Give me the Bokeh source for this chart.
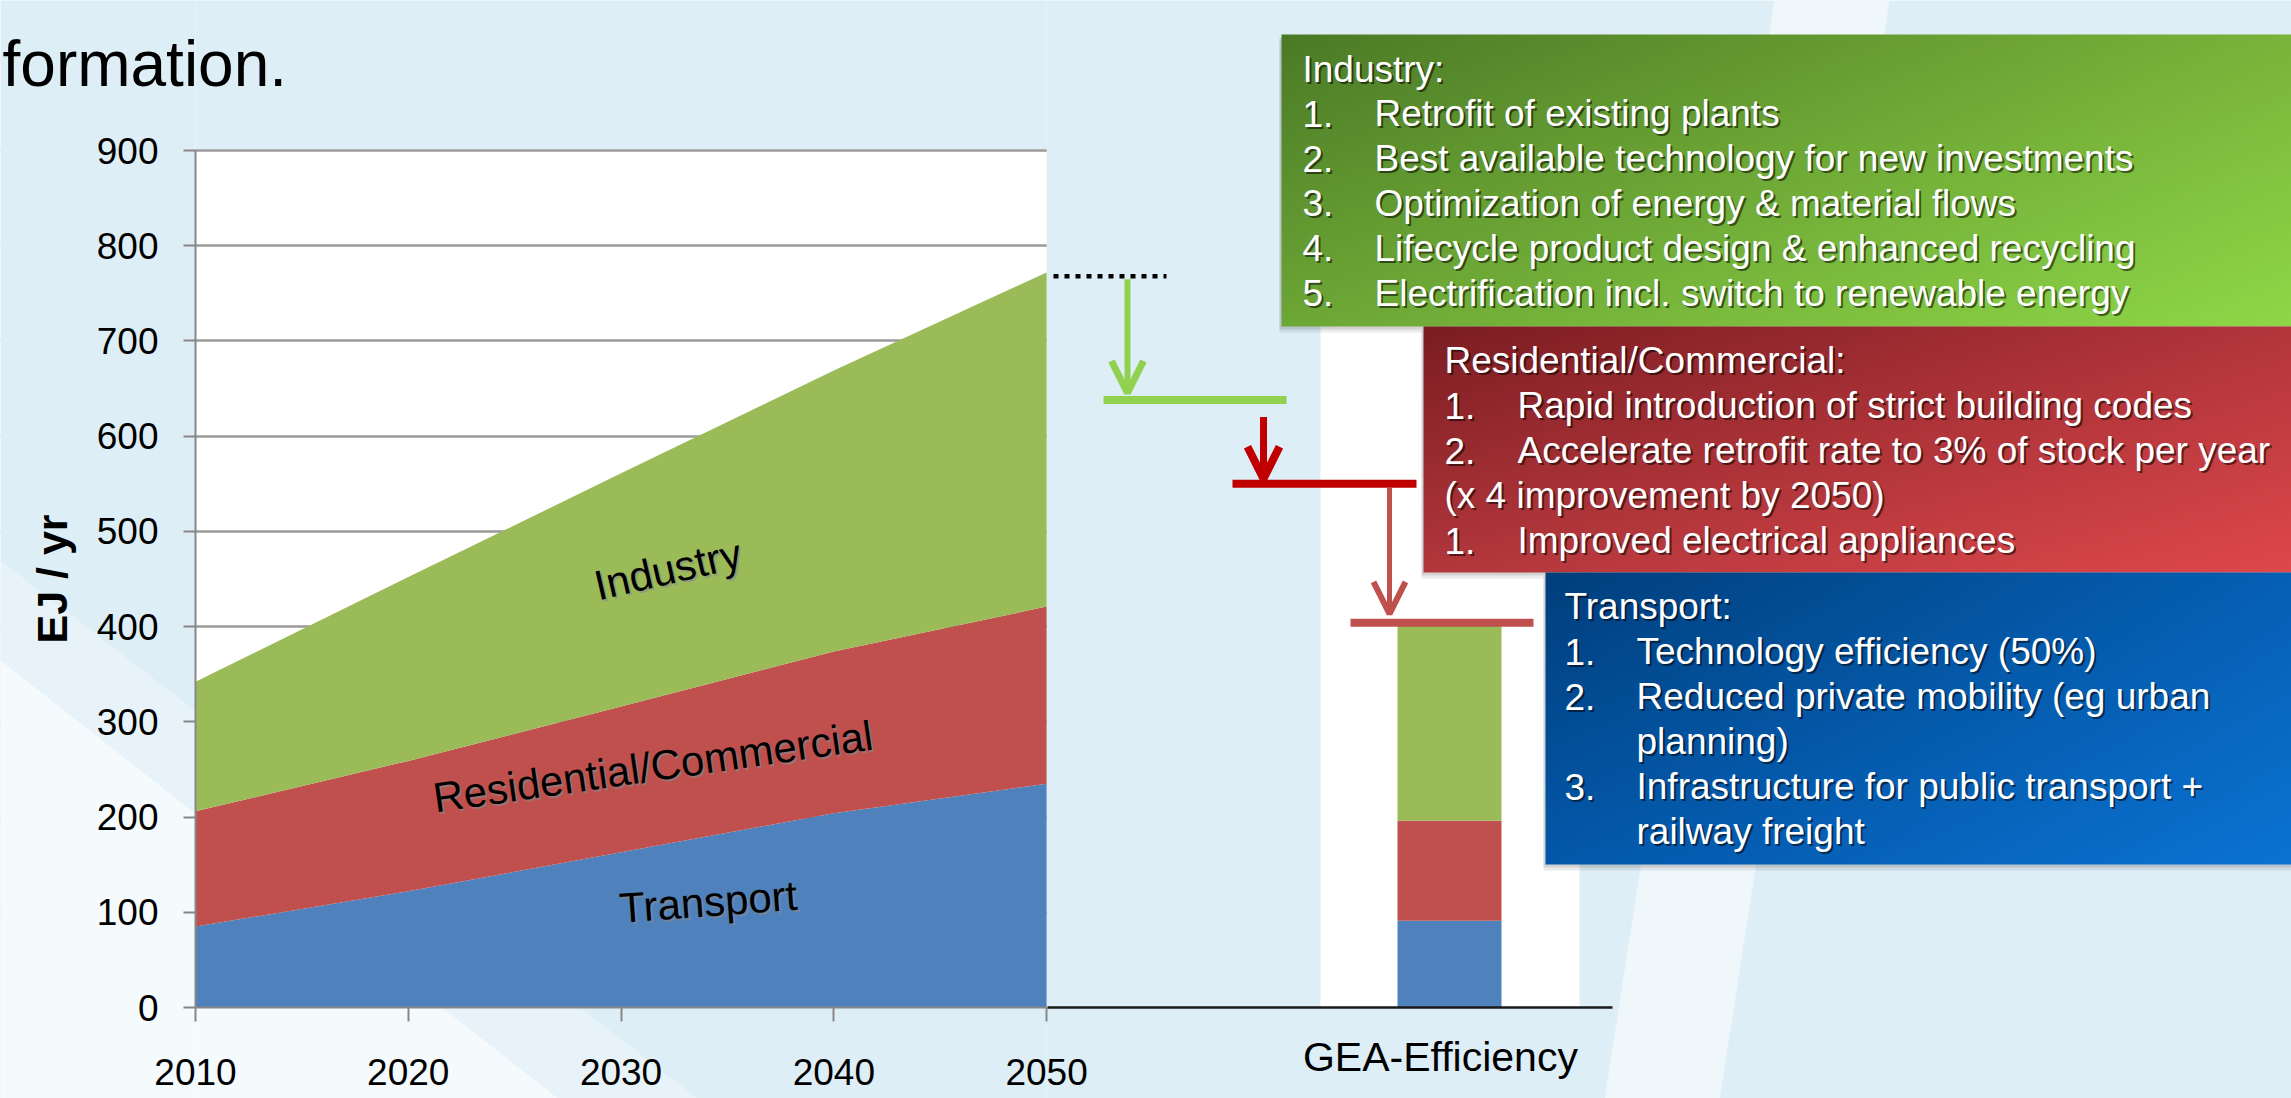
import numpy as np
from bokeh.plotting import figure
from bokeh.models import (ColumnDataSource, Range1d, LinearAxis, FixedTicker, Grid,
                          Arrow, OpenHead)
from bokeh.core.properties import value
from bokeh.embed import file_html
from bokeh.resources import INLINE

# ---------------- data ----------------
years = [2010, 2020, 2030, 2040, 2050]
transport = [85, 122, 163, 204, 235]
residential = [121, 137, 153, 170, 186]
industry = [136, 193, 245, 295, 351]

gea_category = ["GEA-Efficiency"]
gea_transport = [91]
gea_residential = [105]
gea_industry = [208]

sector_names = ["Transport", "Residential/Commercial", "Industry"]
sector_colors = ["#4f81bd", "#c0504d", "#9bbb59"]

y_ticks = [0, 100, 200, 300, 400, 500, 600, 700, 800, 900]
x_ticks = [2010, 2020, 2030, 2040, 2050]

# levels (EJ/yr) of the step-down annotation: 2050 level, after industry, after buildings
step_levels = [768, 638, 550]

# anchors of the in-area labels (data units) and their slant
label_x = [2034.1, 2031.5, 2032.2]
label_y = [111, 253, 460]
label_angle_deg = [4.2, 8.2, 13.0]

slide_title_fragment = "formation."

industry_title = "Industry:"
industry_items = [("1.", "Retrofit of existing plants"),
                  ("2.", "Best available technology for new investments"),
                  ("3.", "Optimization of energy & material flows"),
                  ("4.", "Lifecycle product design & enhanced recycling"),
                  ("5.", "Electrification incl. switch to renewable energy")]
res_title = "Residential/Commercial:"
res_items = [("1.", "Rapid introduction of strict building codes"),
             ("2.", "Accelerate retrofit rate to 3% of stock per year"),
             ("(x 4 improvement by 2050)", ""),
             ("1.", "Improved electrical appliances")]
transport_title = "Transport:"
transport_items = [("1.", "Technology efficiency (50%)"),
                   ("2.", "Reduced private  mobility (eg urban"),
                   ("", "planning)"),
                   ("3.", "Infrastructure for public transport +"),
                   ("", "railway freight")]

# ---------------- page geometry (reference pixels) ----------------
W, H = 2291, 1098
OFF = 0
X2010_PX, X2050_PX = 195.0, 1046.1
Y0_PX, PX_PER_UNIT = 1007.0, 0.9522
FONT = "Liberation Sans"
BG = "#deeef6"


def xd(px):
    return 2010 + (px - X2010_PX) * 40.0 / (X2050_PX - X2010_PX)


def yd(py):
    return (Y0_PX - py) / PX_PER_UNIT


p = figure(width=W, height=H,
           x_range=Range1d(xd(OFF), xd(OFF + W)),
           y_range=Range1d(yd(OFF + H), yd(OFF)),
           x_axis_type=None, y_axis_type=None,
           output_backend="svg", toolbar_location=None,
           min_border=0, min_border_left=0, min_border_right=0,
           min_border_top=0, min_border_bottom=0,
           background_fill_color="white", border_fill_color=BG,
           outline_line_color=None)

# ---------------- axes and grid ----------------
yaxis = LinearAxis(fixed_location=2010, ticker=FixedTicker(ticks=y_ticks), bounds=(0, 900),
                   axis_label="EJ / yr", axis_label_text_font=FONT,
                   axis_label_text_font_size="43px", axis_label_text_font_style="bold",
                   axis_label_text_color="black", axis_label_standoff=18,
                   major_label_text_font=FONT, major_label_text_font_size="37px",
                   major_label_text_color="black", major_label_standoff=25,
                   major_tick_out=12, major_tick_in=0, minor_tick_out=0, minor_tick_in=0,
                   axis_line_color="#878787", axis_line_width=2,
                   major_tick_line_color="#878787", major_tick_line_width=2)
p.add_layout(yaxis, "left")

xaxis = LinearAxis(fixed_location=0, ticker=FixedTicker(ticks=x_ticks), bounds=(2010, 2050),
                   major_label_text_font=FONT, major_label_text_font_size="37px",
                   major_label_text_color="black", major_label_standoff=37,
                   major_tick_out=14, major_tick_in=0, minor_tick_out=0, minor_tick_in=0,
                   axis_line_color="#878787", axis_line_width=2,
                   major_tick_line_color="#878787", major_tick_line_width=2)
p.add_layout(xaxis, "below")

gea_tick = round(xd(1440), 2)
gea_axis = LinearAxis(fixed_location=0, ticker=FixedTicker(ticks=[gea_tick]),
                      bounds=(xd(1047), xd(1612)),
                      major_label_overrides={gea_tick: gea_category[0]},
                      major_label_text_font=FONT, major_label_text_font_size="41px",
                      major_label_text_color="black", major_label_standoff=26,
                      major_tick_out=0, major_tick_in=0, minor_tick_out=0, minor_tick_in=0,
                      axis_line_color="#1a1a1a", axis_line_width=2.5)
p.add_layout(gea_axis, "below")

grid = Grid(dimension=1, ticker=FixedTicker(ticks=y_ticks[1:]),
            grid_line_color="#9a9a9a", grid_line_width=2.5)
p.add_layout(grid)

# masks: keep the white plotting area only between 2010-2050 and 0-900
xs0, xs1 = xd(OFF) - 5, xd(OFF + W) + 5
ys0, ys1 = yd(OFF + H) - 5, yd(OFF) + 5
top_edge = 900 + 1.6 / PX_PER_UNIT
p.quad(left=[xs0, 2050, 2010, 2010], right=[2010, xs1, 2050, 2050],
       bottom=[ys0, ys0, top_edge, ys0], top=[ys1, ys1, ys1, 0],
       fill_color=BG, line_color=None)

# background light streaks of the slide
p.patch([xd(0), xd(700), xd(0)], [yd(560), yd(1100), yd(1100)],
        fill_color="white", fill_alpha=0.3, line_color=None)
p.patch([xd(0), xd(560), xd(0)], [yd(660), yd(1100), yd(1100)],
        fill_color="white", fill_alpha=0.55, line_color=None)
p.patch([xd(1774), xd(1889), xd(1719), xd(1604)], [yd(0), yd(0), yd(1100), yd(1100)],
        fill_color="white", fill_alpha=0.55, line_color=None)

# white panel behind the GEA bar
p.quad(left=[xd(1320)], right=[xd(1579)], bottom=[0], top=[yd(300)],
       fill_color="white", line_color=None)

# ---------------- stacked areas ----------------
src = ColumnDataSource(dict(year=years, t=transport, r=residential, i=industry))
p.varea_stack(["t", "r", "i"], x="year", color=sector_colors, source=src)

lab = ColumnDataSource(dict(x=label_x, y=label_y, text=sector_names,
                            angle=list(np.deg2rad(label_angle_deg))))
p.text(x="x", y="y", text="text", angle="angle", source=lab, x_offset=2, y_offset=2,
       text_font=value(FONT), text_font_size="42px", text_color="#8a8a8a", text_alpha=0.6,
       text_align="center", text_baseline="middle")
p.text(x="x", y="y", text="text", angle="angle", source=lab,
       text_font=value(FONT), text_font_size="42px", text_color="black",
       text_align="center", text_baseline="middle")

# ---------------- GEA bar ----------------
gea_x = xd(1449)
gea_w = xd(1501) - xd(1397)
bsrc = ColumnDataSource(dict(x=[gea_x], t=gea_transport, r=gea_residential, i=gea_industry))
p.vbar_stack(["t", "r", "i"], x="x", width=gea_w, color=sector_colors, source=bsrc,
             line_color=None)
gea_total = gea_transport[0] + gea_residential[0] + gea_industry[0]

# ---------------- step-down annotation ----------------
p.segment(x0=[xd(1053)], x1=[xd(1166)], y0=[step_levels[0]], y1=[step_levels[0]],
          line_color="black", line_width=4.5, line_dash="5 6")
p.segment(x0=[xd(1103), xd(1232), xd(1350)], x1=[xd(1286), xd(1416), xd(1533)],
          y0=[step_levels[1], step_levels[2], gea_total],
          y1=[step_levels[1], step_levels[2], gea_total],
          line_color=["#92d050", "#c00000", "#c0504d"], line_width=8)

arrows = [
    (xd(1127), step_levels[0] - 3 / PX_PER_UNIT, step_levels[1] + 7 / PX_PER_UNIT, "#92d050", 6),
    (xd(1263), step_levels[1] - 17 / PX_PER_UNIT, step_levels[2] + 5 / PX_PER_UNIT, "#c00000", 7),
    (xd(1389), step_levels[2] - 4 / PX_PER_UNIT, gea_total + 9 / PX_PER_UNIT, "#c0504d", 5),
]
for ax, ys, ye, col, lw in arrows:
    p.add_layout(Arrow(x_start=ax, y_start=ys, x_end=ax, y_end=ye,
                       line_color=col, line_width=lw,
                       end=OpenHead(size=32, line_color=col, line_width=lw + 1)))

# ---------------- measure boxes ----------------
RIGHT = 2295
boxes = [
    dict(left=1281, top=34, bottom=326, c=("#4b7a26", "#7ab43a", "#6da736", "#8fd848"),
         num_x=1302, text_x=1374, first=68.5, step=44.8,
         title=industry_title, items=industry_items),
    dict(left=1423, top=326, bottom=572, c=("#7b1d22", "#b3363b", "#b2373b", "#de484c"),
         num_x=1444, text_x=1517, first=360, step=45,
         title=res_title, items=res_items),
    dict(left=1545, top=572, bottom=864, c=("#013f7c", "#0660b4", "#0458aa", "#0b73d2"),
         num_x=1564, text_x=1636, first=606, step=45,
         title=transport_title, items=transport_items),
]


def hexrgb(c):
    return np.array([int(c[k:k + 2], 16) for k in (1, 3, 5)], dtype=float)


def gradient(wpx, hpx, tl, tr, bl, br, step=2):
    nx, ny = max(2, int(wpx / step)), max(2, int(hpx / step))
    u = np.linspace(0, 1, nx)[None, :, None]
    v = np.linspace(0, 1, ny)[:, None, None]
    col = (hexrgb(tl) * (1 - u) * (1 - v) + hexrgb(tr) * u * (1 - v)
           + hexrgb(bl) * (1 - u) * v + hexrgb(br) * u * v)
    rgba = np.empty((ny, nx, 4), dtype=np.uint8)
    rgba[..., :3] = np.clip(col, 0, 255).astype(np.uint8)
    rgba[..., 3] = 255
    rgba = np.ascontiguousarray(rgba[::-1])
    return rgba.view(np.uint32).reshape(ny, nx)


# soft shadows
for b in boxes:
    for d, a in ((3, 0.10), (6, 0.08)):
        p.quad(left=[xd(b["left"] - 2)], right=[xd(RIGHT)], top=[yd(b["top"] + d)],
               bottom=[yd(b["bottom"] + d)], fill_color="black", fill_alpha=a, line_color=None)

for b in boxes:
    img = gradient(RIGHT - b["left"], b["bottom"] - b["top"], *b["c"])
    p.image_rgba(image=[img], x=xd(b["left"]), y=yd(b["bottom"]),
                 dw=xd(RIGHT) - xd(b["left"]), dh=yd(b["top"]) - yd(b["bottom"]))

for b in boxes:
    xs, ys, ts = [xd(b["num_x"])], [yd(b["first"])], [b["title"]]
    for k, (num, txt) in enumerate(b["items"]):
        yy = yd(b["first"] + (k + 1) * b["step"])
        if num:
            xs.append(xd(b["num_x"])); ys.append(yy); ts.append(num)
        if txt:
            xs.append(xd(b["text_x"])); ys.append(yy); ts.append(txt)
    tsrc = ColumnDataSource(dict(x=xs, y=ys, text=ts))
    p.text(x="x", y="y", text="text", source=tsrc, x_offset=2, y_offset=2,
           text_font=value(FONT), text_font_size="37px", text_color="black", text_alpha=0.55,
           text_align="left", text_baseline="middle")
    p.text(x="x", y="y", text="text", source=tsrc,
           text_font=value(FONT), text_font_size="37px", text_color="white",
           text_align="left", text_baseline="middle")

# cut-off slide title fragment in the corner
p.text(x=[xd(2)], y=[yd(63)], text=[slide_title_fragment], text_font=value(FONT),
       text_font_size="64px", text_color="black", text_align="left",
       text_baseline="alphabetic")

open("out.html", "w").write(file_html(p, INLINE))
